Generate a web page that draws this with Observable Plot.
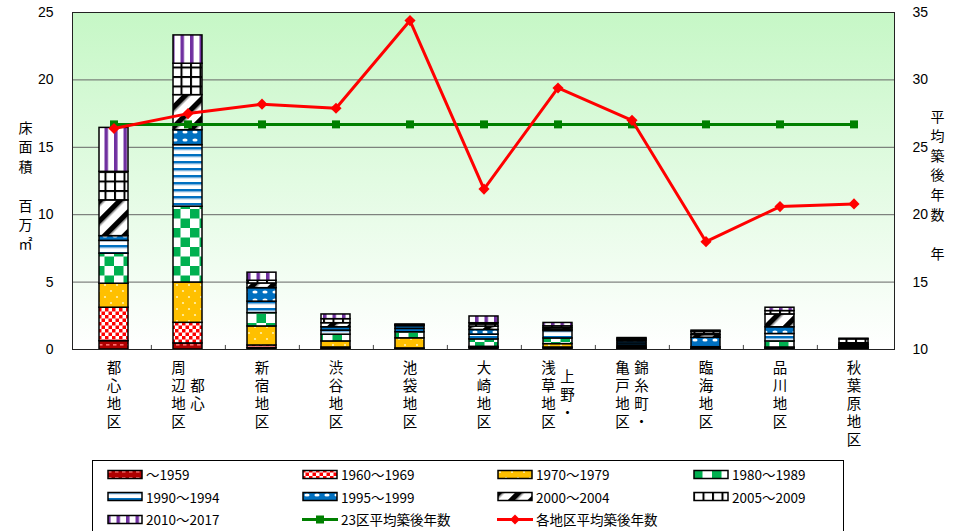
<!DOCTYPE html>
<html><head><meta charset="utf-8">
<script src="https://cdn.jsdelivr.net/npm/d3@7"></script>
<script src="https://cdn.jsdelivr.net/npm/@observablehq/plot@0.6"></script>
<style>
body{margin:0;background:#fff;width:972px;height:531px;overflow:hidden;position:relative;font-family:"Noto Sans CJK JP","Liberation Sans",sans-serif;}
#chart{position:absolute;left:0;top:0;}
#legend{position:absolute;left:92px;top:460px;width:752px;height:80px;border:1px solid #000;box-sizing:border-box;padding:2px 0 0 14px;display:grid;grid-template-columns:195px 195px 196px 150px;grid-auto-rows:22.5px;background:#fff;}
.item{display:flex;align-items:center;font-size:13.5px;color:#000;white-space:nowrap;}
.item svg{margin-right:3px;flex:none}
</style></head><body>
<svg width="0" height="0" style="position:absolute">
<defs>
<linearGradient id="bg" x1="0" y1="0" x2="0" y2="1">
<stop offset="0" stop-color="#c6f7c6"/><stop offset="1" stop-color="#ffffff"/>
</linearGradient>
<pattern id="pat0" patternUnits="userSpaceOnUse" width="7" height="6">
<rect width="7" height="6" fill="#b00000"/><rect x="1" y="2" width="3.5" height="1.6" fill="#ff7070"/>
</pattern>
<pattern id="pat1" patternUnits="userSpaceOnUse" width="7" height="7">
<rect width="7" height="7" fill="#fff"/><rect width="3.5" height="3.5" fill="#ff0000"/><rect x="3.5" y="3.5" width="3.5" height="3.5" fill="#ff0000"/>
</pattern>
<pattern id="pat2" patternUnits="userSpaceOnUse" width="12" height="12">
<rect width="12" height="12" fill="#ffc000"/><circle cx="3" cy="3" r="1.1" fill="#fff2b0"/><circle cx="9" cy="9" r="1.1" fill="#fff2b0"/>
</pattern>
<pattern id="pat3" patternUnits="userSpaceOnUse" width="19" height="19">
<rect width="19" height="19" fill="#fff"/><rect width="9.5" height="9.5" fill="#00b050"/><rect x="9.5" y="9.5" width="9.5" height="9.5" fill="#00b050"/>
</pattern>
<pattern id="pat4" patternUnits="userSpaceOnUse" width="7" height="7">
<rect width="7" height="7" fill="#fff"/><rect y="0" width="7" height="2.6" fill="#0070c0"/><rect y="2.6" width="7" height="0.8" fill="#9dc3e6"/>
</pattern>
<pattern id="pat5" patternUnits="userSpaceOnUse" width="10" height="8">
<rect width="10" height="8" fill="#0070c0"/><ellipse cx="5" cy="4" rx="2.6" ry="1.6" fill="#fff"/>
</pattern>
<pattern id="pat6" patternUnits="userSpaceOnUse" width="14" height="14" patternTransform="rotate(45)">
<rect width="14" height="14" fill="#fff"/><rect x="0" width="5" height="14" fill="#000"/><rect x="5" width="1.5" height="14" fill="#888"/>
</pattern>
<pattern id="pat7" patternUnits="userSpaceOnUse" width="9.5" height="9.5">
<rect width="9.5" height="9.5" fill="#000"/><rect x="2" y="2" width="7.5" height="7.5" fill="#fff"/>
</pattern>
<pattern id="pat8" patternUnits="userSpaceOnUse" width="9.5" height="9.5">
<rect width="9.5" height="9.5" fill="#fff"/><rect width="3.5" height="9.5" fill="#7030a0"/>
</pattern>
</defs>
</svg>
<div id="chart"></div>
<div id="legend"></div>
<script>
// ---- data ----
const categories = ["都心地区","都心周辺地区","新宿地区","渋谷地区","池袋地区","大崎地区","上野・浅草地区","錦糸町・亀戸地区","臨海地区","品川地区","秋葉原地区"];
// label columns as drawn (left to right)
const labelColumns = [["都心地区"],["周辺地区","都心"],["新宿地区"],["渋谷地区"],["池袋地区"],["大崎地区"],["浅草地区","上野・"],["亀戸地区","錦糸町・"],["臨海地区"],["品川地区"],["秋葉原地区"]];
const periods = ["～1959","1960～1969","1970～1979","1980～1989","1990～1994","1995～1999","2000～2004","2005～2009","2010～2017"];
const area1959 = [0.62,0.45,0.10,0.05,0.03,0.10,0.08,0.05,0.00,0.05,0.05];
const area1960 = [2.48,1.53,0.20,0.10,0.05,0.05,0.07,0.05,0.00,0.05,0.05];
const area1970 = [1.78,2.99,1.41,0.45,0.75,0.05,0.25,0.10,0.02,0.05,0.05];
const area1980 = [2.23,5.62,0.99,0.50,0.45,0.55,0.42,0.10,0.05,0.45,0.05];
const area1990 = [0.95,4.57,0.85,0.30,0.25,0.35,0.55,0.15,0.10,0.55,0.10];
const area1995 = [0.35,1.11,1.00,0.25,0.20,0.35,0.10,0.15,0.70,0.50,0.05];
const area2000 = [2.65,2.60,0.35,0.30,0.05,0.25,0.12,0.10,0.20,0.95,0.10];
const area2005 = [2.12,2.33,0.20,0.30,0.05,0.25,0.13,0.10,0.25,0.25,0.30];
const area2010 = [3.26,2.10,0.60,0.35,0.02,0.50,0.25,0.05,0.08,0.25,0.05];
const ward23Age = [26.7,26.7,26.7,26.7,26.7,26.7,26.7,26.7,26.7,26.7,26.7];
const districtAge = [26.4,27.5,28.2,27.9,34.4,21.9,29.4,27.0,18.0,20.6,20.8];
const areaTicks = [0,5,10,15,20,25];
const ageTicks = [10,15,20,25,30,35];
const lineNames = ["23区平均築後年数","各地区平均築後年数"];

// ---- build ----
const seriesArrays = [area1959,area1960,area1970,area1980,area1990,area1995,area2000,area2005,area2010];
const patterns = periods.map((_, i) => `url(#pat${i})`);
const bars = [];
seriesArrays.forEach((arr, j) => arr.forEach((v, i) => bars.push({cat: categories[i], period: periods[j], value: v})));
const ages = categories.map((c, i) => ({cat: c, ward: ward23Age[i], district: districtAge[i]}));
const ageOffset = ageTicks[0]; // right axis 10..35 mapped onto 0..25

const W = 972, H = 457, mL = 72, mR = 78, mT = 12, mB = 108;
const step = (W - mL - mR) / categories.length;
const jp = "'Noto Sans CJK JP', sans-serif";
const num = "'Liberation Sans', Arial, sans-serif";
const lineH = 18, fs = 14.5;

const labelMarks = [];
labelColumns.forEach((cols, i) => {
  const maxLen = Math.max(...cols.map(c => c.length));
  cols.forEach((col, j) => {
    labelMarks.push(Plot.text([{cat: categories[i], t: col.split("").join("\n")}], {
      x: "cat", text: "t", frameAnchor: "bottom", lineAnchor: "top",
      dx: (j - (cols.length - 1) / 2) * 19,
      dy: 11 + (cols.length > 1 ? (maxLen - col.length) / 2 * lineH : 0),
      fontSize: fs, lineHeight: lineH / fs, fontFamily: jp, fill: "#000"
    }));
  });
});

const chart = Plot.plot({
  width: W, height: H,
  marginLeft: mL, marginRight: mR, marginTop: mT, marginBottom: mB,
  style: {fontFamily: num, background: "transparent", overflow: "visible"},
  x: {domain: categories, paddingInner: 0.61, paddingOuter: 0.305, axis: null},
  y: {domain: [0, 25], axis: null},
  color: {type: "ordinal", domain: periods, range: patterns},
  marks: [
    Plot.frame({fill: "url(#bg)", stroke: "none"}),
    Plot.ruleY(areaTicks.slice(1, -1), {stroke: "#666", strokeWidth: 1}),
    Plot.ruleX(categories.slice(0, -1), {x: d => d, dx: step / 2, y1: 0, y2: 0.3, stroke: "#444"}),
    Plot.axisY({anchor: "left", label: null, ticks: areaTicks, tickSize: 0, tickPadding: 19, fontSize: 14, fill: "#000"}),
    Plot.axisY({anchor: "right", label: null, ticks: ageTicks.map(a => a - ageOffset), tickFormat: d => String(d + ageOffset), tickSize: 0, tickPadding: 18, fontSize: 14, fill: "#000"}),
    Plot.barY(bars, {x: "cat", y: "value", fill: "period", order: periods, stroke: "#000", strokeWidth: 1.5}),
    Plot.line(ages, {x: "cat", y: d => d.ward - ageOffset, stroke: "#008000", strokeWidth: 3}),
    Plot.dot(ages, {x: "cat", y: d => d.ward - ageOffset, symbol: "square", r: 4.5, fill: "#008000", stroke: "none"}),
    Plot.line(ages, {x: "cat", y: d => d.district - ageOffset, stroke: "#ff0000", strokeWidth: 3}),
    Plot.dot(ages, {x: "cat", y: d => d.district - ageOffset, symbol: "diamond2", r: 5, fill: "#ff0000", stroke: "none"}),
    Plot.frame({stroke: "#222", strokeWidth: 1}),
    Plot.text(["床\n面\n積\n\u3000\n百\n万\n㎡"], {text: d => d, frameAnchor: "left", dx: -54, dy: 4, lineAnchor: "middle", fontSize: 14, lineHeight: 19.4 / 14, fontFamily: jp, fill: "#000"}),
    Plot.text(["平\n均\n築\n後\n年\n数\n\u3000\n年"], {text: d => d, frameAnchor: "right", dx: 50, dy: 3, lineAnchor: "middle", fontSize: 14, lineHeight: 19.6 / 14, fontFamily: jp, fill: "#000"}),
    ...labelMarks
  ]
});
document.getElementById("chart").appendChild(chart);

// ---- legend ----
const legend = document.getElementById("legend");
const sw = (inner) => `<svg width="36" height="11" viewBox="0 0 36 11">${inner}</svg>`;
periods.forEach((p, i) => {
  const d = document.createElement("div"); d.className = "item";
  d.innerHTML = sw(`<rect x="1" y="1.5" width="34" height="8" fill="${patterns[i]}" stroke="#000" stroke-width="1.5"/>`) + `<span>${p}</span>`;
  legend.appendChild(d);
});
const lineSw = [
  `<line x1="0" y1="5.5" x2="36" y2="5.5" stroke="#008000" stroke-width="3"/><rect x="14" y="1.5" width="8" height="8" fill="#008000"/>`,
  `<line x1="0" y1="5.5" x2="36" y2="5.5" stroke="#ff0000" stroke-width="3"/><path d="M18 0.5 L23 5.5 L18 10.5 L13 5.5Z" fill="#ff0000"/>`
];
lineNames.forEach((n, i) => {
  const d = document.createElement("div"); d.className = "item";
  d.innerHTML = sw(lineSw[i]) + `<span>${n}</span>`;
  legend.appendChild(d);
});
</script>
</body></html>
